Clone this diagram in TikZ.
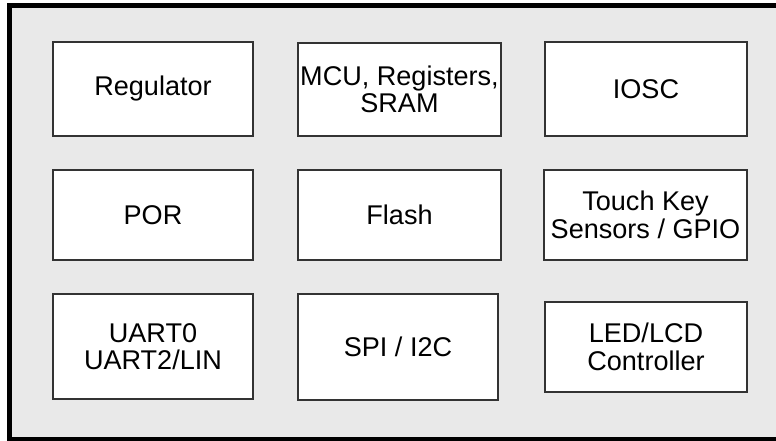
\documentclass[tikz,border=0pt]{standalone}
\usepackage{fontspec}
\setmainfont{Liberation Sans}
\definecolor{panel}{HTML}{E9E9E9}
\definecolor{edge}{HTML}{333333}
\tikzset{
  blk/.style={draw=edge, line width=1.5pt, fill=white, align=center, inner sep=0pt,
    minimum width=150pt, font=\fontsize{20.3}{20.6}\selectfont},
}
\begin{document}
\begin{tikzpicture}[x=0.75pt,y=-0.75pt]
			\useasboundingbox (0,0) rectangle (776,441);
			\clip (0,0) rectangle (776,441);
			\draw[line width=3.75pt, fill=panel] (9.5,5.5) rectangle (800,439.5);
		
			\node[blk, minimum height=70.5pt] (reg) at (153,89) {Regulator};
			\node[blk, minimum width=152.25pt, minimum height=69.75pt] (mcu) at (399.5,89.5) {MCU, Registers,\\SRAM};
			\node[blk, minimum width=151.5pt, minimum height=70.5pt] (iosc) at (646,89) {IOSC};
			
			\node[blk, minimum height=67.5pt] (por) at (153,215) {POR};
			\node[blk, minimum width=152.25pt, minimum height=67.5pt] (flash) at (399.5,215) {Flash};
			\node[blk, minimum width=152.25pt, minimum height=67.5pt] (touch) at (645.5,215) {Touch Key\\Sensors / GPIO};
			
			\node[blk, minimum height=78.75pt] (uart) at (153,346.5) {UART0\\UART2/LIN};
			\node[blk, minimum height=79.5pt] (spi) at (398,347) {SPI / I2C};
			\node[blk, minimum width=151.5pt, minimum height=67.5pt] (led) at (646,347) {LED/LCD\\Controller};
		\end{tikzpicture}
\end{document}
